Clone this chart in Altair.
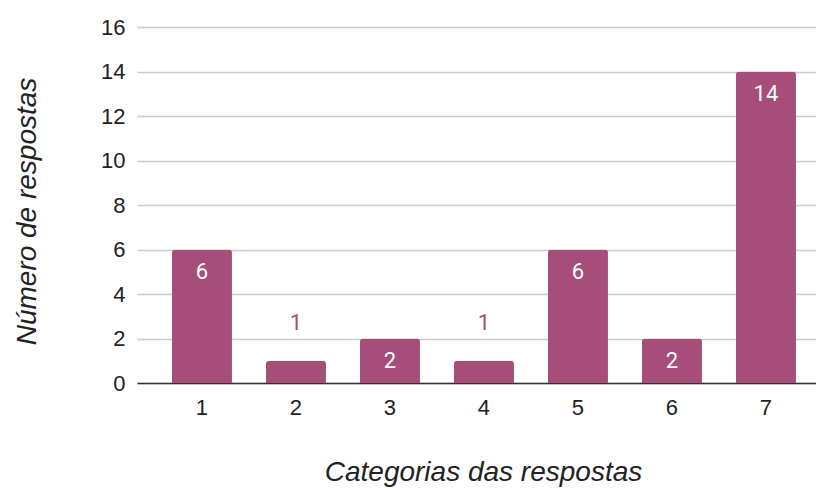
import altair as alt
import pandas as pd

categories = ["1", "2", "3", "4", "5", "6", "7"]
values = [6, 1, 2, 1, 6, 2, 14]
y_ticks = [0, 2, 4, 6, 8, 10, 12, 14, 16]

df = pd.DataFrame({"cat": categories, "val": values})
df["inside"] = df["val"] >= 2

BAR = "#a64d79"

x = alt.X(
    "cat:N",
    sort=categories,
    scale=alt.Scale(paddingInner=0.362, paddingOuter=0.2927, align=0.636),
    axis=alt.Axis(
        title="Categorias das respostas",
        labelAngle=0,
        labelFont="Liberation Sans",
        labelFontSize=22,
        labelColor="#222222",
        labelPadding=14,
        ticks=False,
        grid=False,
        domain=True,
        domainColor="#333333",
        domainWidth=1.5,
        titleFont="Liberation Sans",
        titleFontSize=28,
        titleFontStyle="italic",
        titleFontWeight="normal",
        titleColor="#222222",
        titleX=346,
        titleY=97,
        titleBaseline="alphabetic",
        titleAlign="center",
    ),
)

y = alt.Y(
    "val:Q",
    scale=alt.Scale(domain=[0, 16], nice=False),
    axis=alt.Axis(
        title="Número de respostas",
        values=y_ticks,
        labelFont="Liberation Sans",
        labelFontSize=22,
        labelColor="#222222",
        labelPadding=12,
        ticks=False,
        domain=False,
        grid=True,
        gridColor="#cccccc",
        gridWidth=1.5,
        titleFont="Liberation Sans",
        titleFontSize=28,
        titleFontStyle="italic",
        titleFontWeight="normal",
        titleColor="#222222",
        titleAngle=270,
        titleX=-102,
        titleY=184,
        titleAlign="center",
        titleBaseline="alphabetic",
    ),
)

base = alt.Chart(df)

bars = base.mark_bar(
    color=BAR, cornerRadiusTopLeft=3, cornerRadiusTopRight=3
).encode(x=x, y=y)

inside = base.transform_filter("datum.inside").mark_text(
    font="Roboto", fontSize=22, fontWeight="normal", color="white",
    baseline="middle", dy=22
).encode(x=x, y=y, text="val:Q")

outside = base.transform_filter("!datum.inside").mark_text(
    font="Roboto", fontSize=22, fontWeight="normal", color=BAR,
    baseline="middle", dy=-38
).encode(x=x, y=y, text="val:Q")

chart = (
    alt.layer(bars, inside, outside)
    .properties(
        width=679,
        height=356,
        background="white",
        autosize=alt.AutoSizeParams(type="none"),
        padding={"left": 137, "top": 27, "right": 0, "bottom": 107},
    )
    .configure_view(strokeOpacity=0, strokeWidth=0)
    .configure_axisBand(grid=False)
)

chart.save("out.html", embed_options={"renderer": "svg", "actions": False})
